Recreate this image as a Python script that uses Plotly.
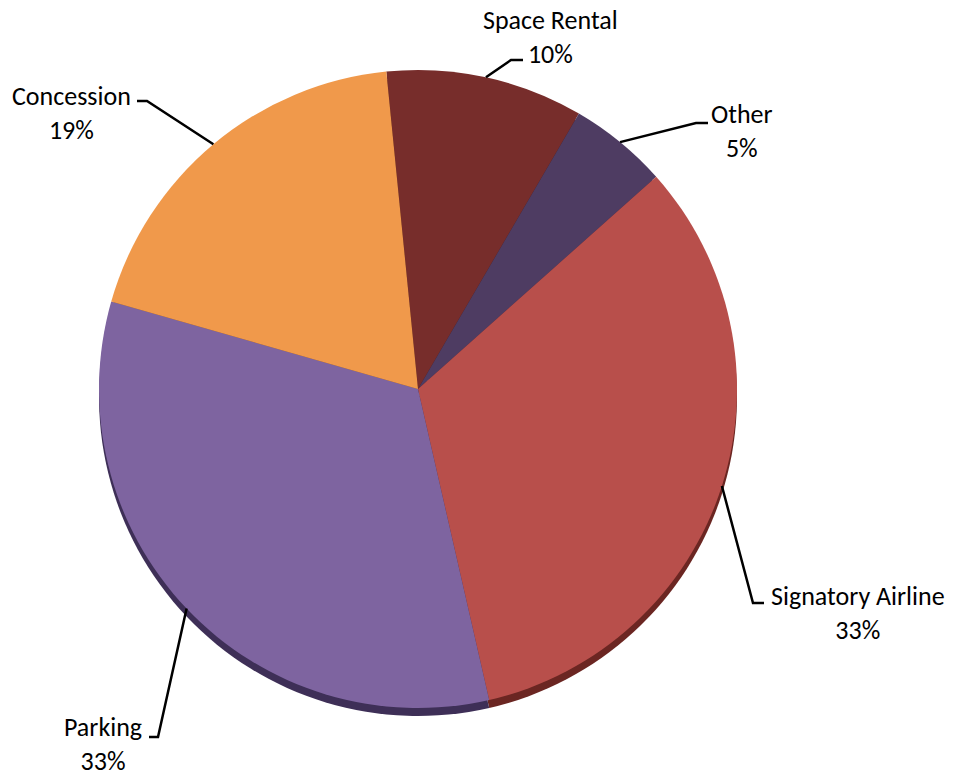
import math
import plotly.graph_objects as go

# Revenue share by source
labels = ["Space Rental", "Other", "Signatory Airline", "Parking", "Concession"]
values = [10, 5, 33, 33, 19]
face_colors = ["#772D2B", "#4E3C62", "#B84F4B", "#7E64A0", "#F0994B"]
edge_colors = ["#4A1A18", "#2E2340", "#6B2622", "#3E2F57", "#8A5524"]

# Label placement (pixel positions): elbow of leader line, end of horizontal tick, text centre
label_layout = {
    "Space Rental":      {"elbow": (511, 60),  "end": (523, 60),  "text": (550, 37)},
    "Other":             {"elbow": (696, 123), "end": (708, 123), "text": (742, 131)},
    "Signatory Airline": {"elbow": (753, 603), "end": (764, 603), "text": (858, 613)},
    "Parking":           {"elbow": (158, 737), "end": (149, 737), "text": (103, 744)},
    "Concession":        {"elbow": (147, 101), "end": (137, 101), "text": (71, 113)},
}

W, H = 955, 777
CX, CY, R = 418, 389, 319
ROTATION = -5.7
DEPTH = 8


def px_to_paper(x, y):
    return x / W, 1 - y / H


def domain(cx, cy, r):
    x0, y1 = px_to_paper(cx - r, cy - r)
    x1, y0 = px_to_paper(cx + r, cy + r)
    return dict(x=[x0, x1], y=[y0, y1])


fig = go.Figure()

# extruded rim under the pie face
fig.add_trace(go.Pie(
    labels=labels, values=values, sort=False, direction="clockwise",
    rotation=ROTATION, marker=dict(colors=edge_colors, line=dict(width=0)),
    textinfo="none", hoverinfo="skip", showlegend=False,
    domain=domain(CX, CY + DEPTH, R),
))

# pie face
fig.add_trace(go.Pie(
    labels=labels, values=values, sort=False, direction="clockwise",
    rotation=ROTATION, marker=dict(colors=face_colors, line=dict(width=0)),
    textinfo="none", hoverinfo="skip", showlegend=False,
    domain=domain(CX, CY, R),
))

total = sum(values)
shapes, annotations = [], []
cum = 0
for lab, val in zip(labels, values):
    mid = math.radians(ROTATION + (cum + val / 2) / total * 360)
    cum += val
    ex, ey = CX + R * math.sin(mid), CY - R * math.cos(mid)
    spec = label_layout[lab]
    pts = [px_to_paper(ex, ey), px_to_paper(*spec["elbow"]), px_to_paper(*spec["end"])]
    path = "M {} {} L {} {} L {} {}".format(*[c for p in pts for c in p])
    shapes.append(dict(type="path", path=path, xref="paper", yref="paper",
                       line=dict(color="black", width=2.5)))
    tx, ty = px_to_paper(*spec["text"])
    pct = round(val / total * 100)
    annotations.append(dict(
        x=tx, y=ty, xref="paper", yref="paper", showarrow=False,
        text=f"{lab}<br>{pct}%", xanchor="center", yanchor="middle", align="center",
        font=dict(family="Carlito, Lato, sans-serif", size=26, color="black"),
    ))

fig.update_layout(
    width=W, height=H, margin=dict(l=0, r=0, t=0, b=0),
    paper_bgcolor="white", plot_bgcolor="white",
    shapes=shapes, annotations=annotations,
)

fig.write_html("out.html")
